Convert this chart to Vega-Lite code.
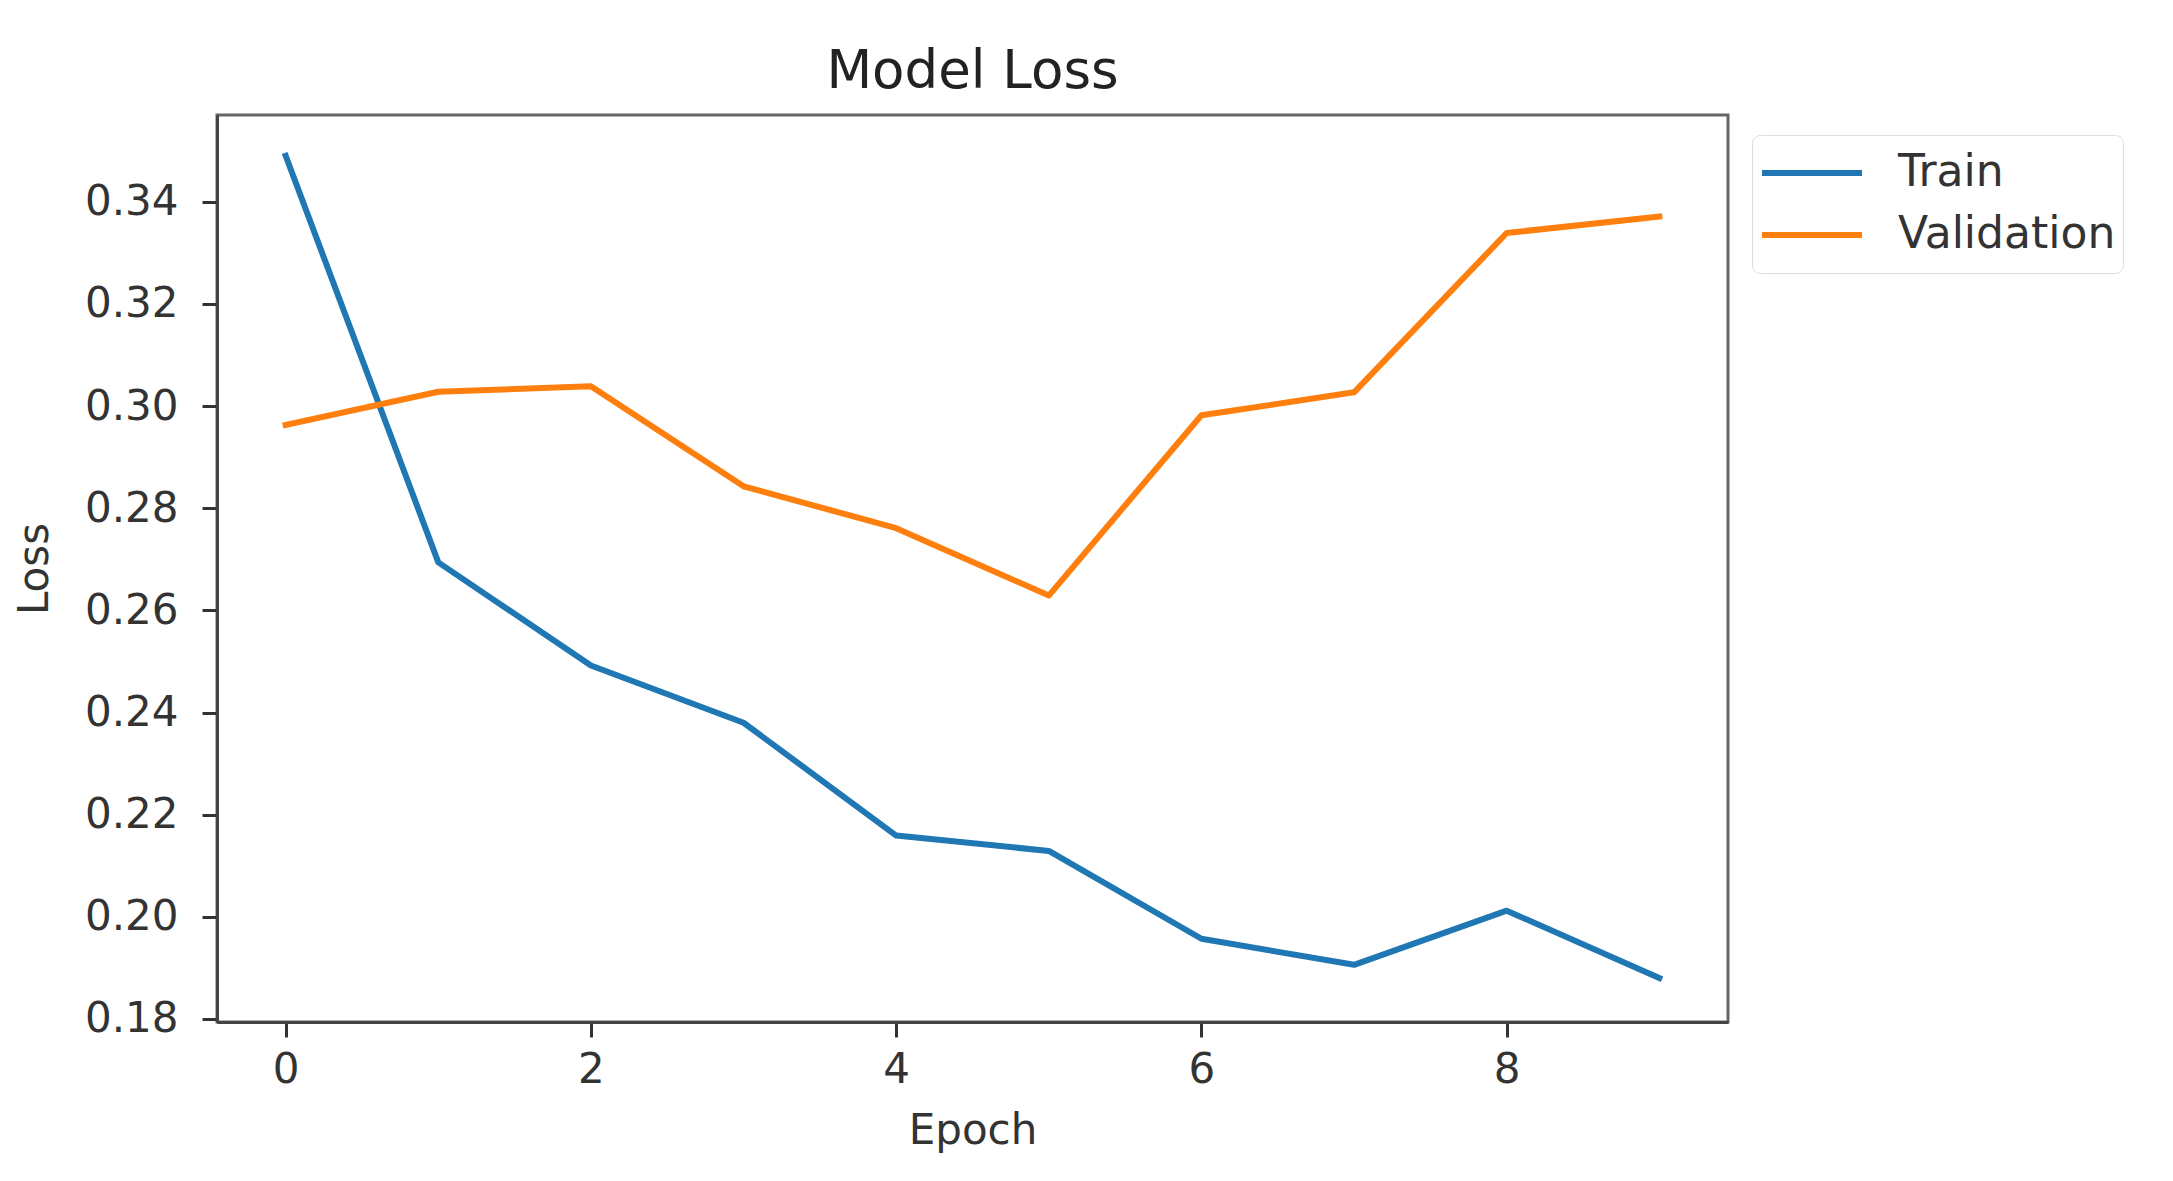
{
  "$schema": "https://vega.github.io/schema/vega-lite/v6.json",
  "autosize": {"type": "none"},
  "padding": {"left": 217, "top": 115, "right": 445, "bottom": 159},
  "width": 1511,
  "height": 907,
  "background": "white",
  "title": {"text": "Model Loss", "fontSize": 53, "fontWeight": "normal", "font": "DejaVu Sans", "color": "#222", "anchor": "middle", "offset": 16},
  "data": {"values": [
    {"epoch": 0, "loss": 0.349, "series": "Train"},
    {"epoch": 1, "loss": 0.2694, "series": "Train"},
    {"epoch": 2, "loss": 0.2492, "series": "Train"},
    {"epoch": 3, "loss": 0.238, "series": "Train"},
    {"epoch": 4, "loss": 0.2159, "series": "Train"},
    {"epoch": 5, "loss": 0.2129, "series": "Train"},
    {"epoch": 6, "loss": 0.1957, "series": "Train"},
    {"epoch": 7, "loss": 0.1906, "series": "Train"},
    {"epoch": 8, "loss": 0.2012, "series": "Train"},
    {"epoch": 9, "loss": 0.188, "series": "Train"},
    {"epoch": 0, "loss": 0.2963, "series": "Validation"},
    {"epoch": 1, "loss": 0.3028, "series": "Validation"},
    {"epoch": 2, "loss": 0.3039, "series": "Validation"},
    {"epoch": 3, "loss": 0.2843, "series": "Validation"},
    {"epoch": 4, "loss": 0.2761, "series": "Validation"},
    {"epoch": 5, "loss": 0.2629, "series": "Validation"},
    {"epoch": 6, "loss": 0.2982, "series": "Validation"},
    {"epoch": 7, "loss": 0.3027, "series": "Validation"},
    {"epoch": 8, "loss": 0.3339, "series": "Validation"},
    {"epoch": 9, "loss": 0.3371, "series": "Validation"}
  ]},
  "mark": {"type": "line", "strokeWidth": 6, "strokeCap": "square", "strokeJoin": "round"},
  "encoding": {
    "x": {"field": "epoch", "type": "quantitative", "title": "Epoch",
      "scale": {"domain": [-0.45, 9.45], "nice": false, "zero": false},
      "axis": {"values": [0, 2, 4, 6, 8], "format": "d", "titlePadding": 20, "labelPadding": 12}},
    "y": {"field": "loss", "type": "quantitative", "title": "Loss",
      "scale": {"domain": [0.1794, 0.357], "nice": false, "zero": false},
      "axis": {"values": [0.18, 0.2, 0.22, 0.24, 0.26, 0.28, 0.3, 0.32, 0.34], "format": ".2f", "titlePadding": 28, "labelPadding": 24}},
    "color": {"field": "series", "type": "nominal",
      "scale": {"domain": ["Train", "Validation"], "range": ["#1f77b4", "#ff7f0e"]},
      "legend": {"title": null, "orient": "none", "legendX": 1535, "legendY": 20,
        "symbolType": "stroke", "symbolSize": 10000, "symbolStrokeWidth": 6,
        "labelFontSize": 44, "labelFont": "DejaVu Sans", "labelColor": "#333", "labelOffset": 33, "labelLimit": 500,
        "clipHeight": 62, "rowPadding": 0, "padding": 7, "strokeColor": "#dddddd", "fillColor": "white", "cornerRadius": 8}}
  },
  "config": {
    "view": {"stroke": "#666", "strokeWidth": 3},
    "axis": {"grid": false, "labelFont": "DejaVu Sans", "labelFontSize": 42, "labelColor": "#333",
      "titleFont": "DejaVu Sans", "titleFontSize": 42, "titleFontWeight": "normal", "titleColor": "#333",
      "tickSize": 15, "tickWidth": 3, "tickColor": "#333", "domainColor": "#444", "domainWidth": 3}
  }
}
